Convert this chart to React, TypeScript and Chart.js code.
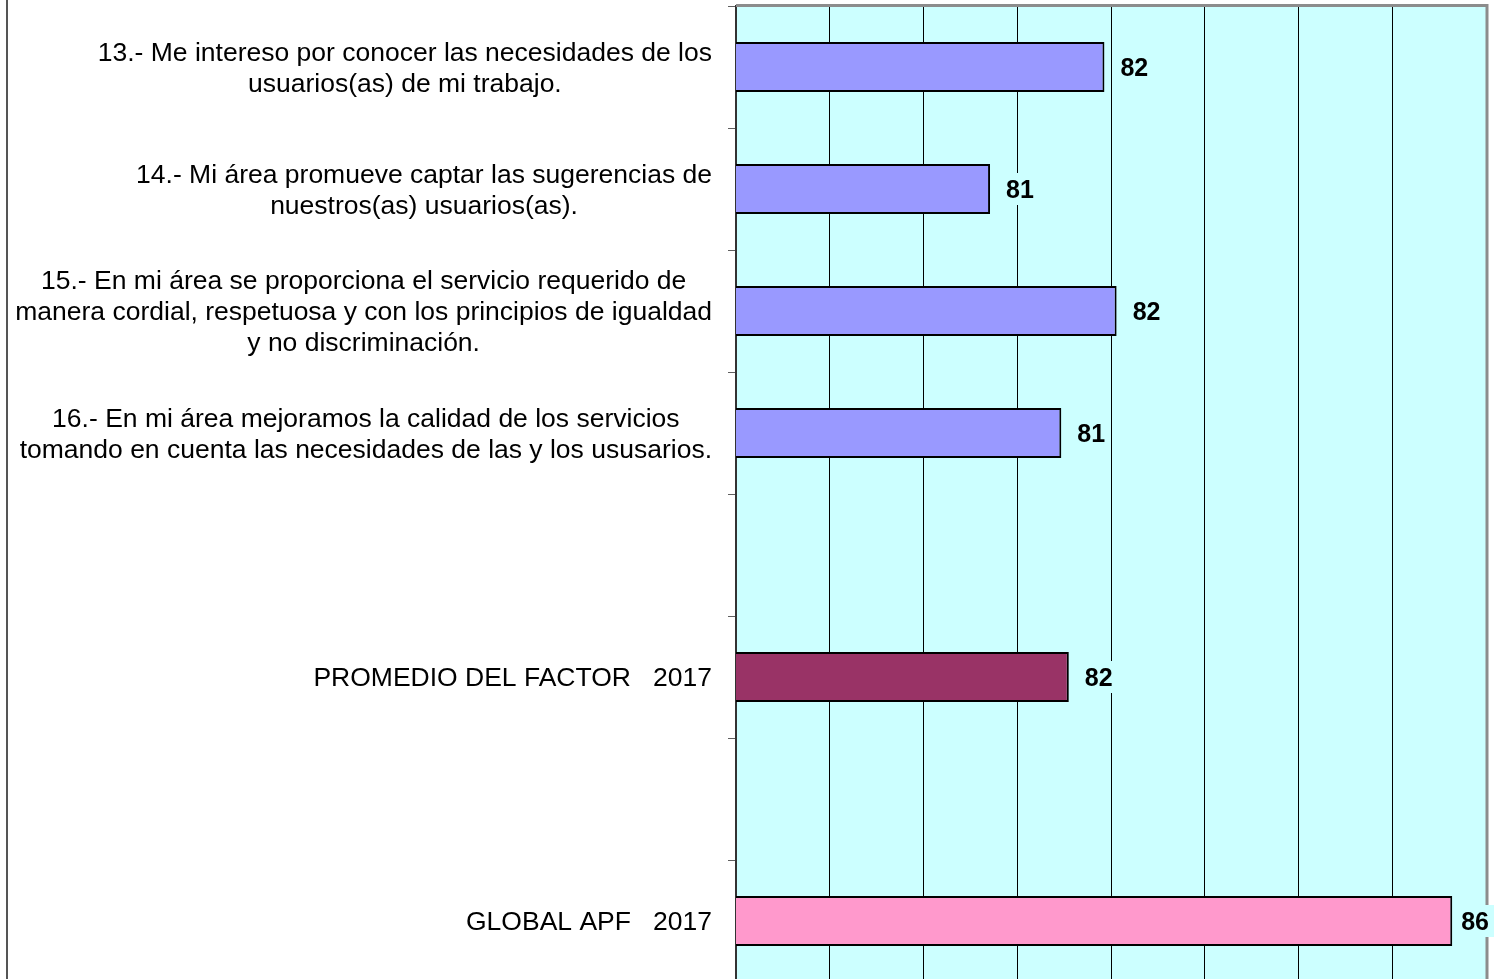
import React, { useEffect, useRef } from "react";
import { Chart, registerables } from "chart.js";

Chart.register(...registerables);

const categoryLines: string[][] = [
  ["13.- Me intereso por conocer las necesidades de los", "usuarios(as) de mi trabajo."],
  ["14.- Mi área promueve captar las sugerencias de", "nuestros(as) usuarios(as)."],
  ["15.- En mi área se proporciona el servicio requerido de", "manera cordial, respetuosa y con los principios de igualdad", "y no discriminación."],
  ["16.- En mi área mejoramos la calidad de los servicios", "tomando en cuenta las necesidades de las y los ususarios."],
  [""],
  ["PROMEDIO DEL FACTOR   2017"],
  [""],
  ["GLOBAL APF   2017"],
];
const values: (number | null)[] = [81.93, 80.71, 82.06, 81.47, null, 81.55, null, 85.64];
const barColors: string[] = ["#9999FF", "#9999FF", "#9999FF", "#9999FF", "#9999FF", "#993366", "#9999FF", "#FF99CC"];
const axisMin = 78;
const axisMax = 86;

const FONT = '"Liberation Sans", Arial, sans-serif';

const customPlugin = {
  id: "custom",
  beforeDraw(chart: any) {
    const { ctx, chartArea: a } = chart;
    ctx.save();
    ctx.fillStyle = "#CCFFFF";
    ctx.fillRect(a.left, a.top, a.right - a.left, a.bottom - a.top);
    ctx.restore();
  },
  afterDraw(chart: any) {
    const { ctx, chartArea: a } = chart;
    ctx.save();
    // outer frame line at left
    ctx.strokeStyle = "#555555";
    ctx.lineWidth = 2;
    ctx.beginPath();
    ctx.moveTo(7, 0);
    ctx.lineTo(7, chart.height);
    ctx.stroke();
    // plot border top/right
    ctx.strokeStyle = "#8C8C8C";
    ctx.lineWidth = 3;
    ctx.beginPath();
    ctx.moveTo(a.left, a.top - 0.5);
    ctx.lineTo(a.right + 1, a.top - 0.5);
    ctx.lineTo(a.right + 1, chart.height);
    ctx.stroke();

    // category labels
    const yScale = chart.scales.y;
    ctx.fillStyle = "#000000";
    ctx.font = `26.5px ${FONT}`;
    ctx.textAlign = "center";
    ctx.textBaseline = "middle";
    const rightEdge = 712;
    const lineH = 31;
    categoryLines.forEach((lines, i) => {
      const cy = yScale.getPixelForValue(i) + 2;
      const maxW = Math.max(...lines.map((l) => ctx.measureText(l).width));
      const cx = rightEdge - maxW / 2;
      const startY = cy - ((lines.length - 1) * lineH) / 2;
      lines.forEach((l, j) => ctx.fillText(l, cx, startY + j * lineH));
    });

    // value labels
    const meta = chart.getDatasetMeta(0);
    ctx.font = `bold 25px ${FONT}`;
    ctx.textAlign = "left";
    meta.data.forEach((bar: any, i: number) => {
      const v = values[i];
      if (v == null) return;
      const txt = String(Math.round(v));
      const w = ctx.measureText(txt).width;
      const x = Math.min(bar.x + 16, chart.width - 5 - w);
      ctx.fillStyle = "#CCFFFF";
      ctx.fillRect(x - 5, bar.y - 16, w + 10, 32);
      ctx.fillStyle = "#000000";
      ctx.fillText(txt, x, bar.y + 2);
    });
    ctx.restore();
  },
};

export default function App() {
  const ref = useRef<HTMLCanvasElement | null>(null);
  useEffect(() => {
    if (!ref.current) return;
    const chart = new Chart(ref.current, {
      type: "bar",
      data: {
        labels: categoryLines.map((l) => l.join(" ")),
        datasets: [
          {
            data: values as any,
            backgroundColor: barColors,
            borderColor: "#000000",
            borderWidth: 2,
            borderSkipped: "start",
            categoryPercentage: 1,
            barPercentage: 0.41,
          },
        ],
      },
      options: {
        indexAxis: "y",
        animation: false,
        responsive: false,
        maintainAspectRatio: false,
        layout: { padding: { top: 6, right: 8, bottom: 0, left: 0 } },
        plugins: { legend: { display: false }, tooltip: { enabled: false } },
        scales: {
          x: {
            min: axisMin,
            max: axisMax,
            ticks: { display: false, stepSize: 1 },
            grid: { color: "#000000", lineWidth: 1, drawTicks: false },
            border: { display: false },
            afterFit: (s: any) => {
              s.height = 0;
            },
          },
          y: {
            type: "category",
            ticks: { display: false },
            grid: { drawOnChartArea: false, offset: true, tickLength: 8, color: "#606060", lineWidth: 1 },
            border: { display: true, color: "#333333", width: 2 },
            afterFit: (s: any) => {
              s.width = 736;
            },
          },
        },
      },
      plugins: [customPlugin],
    });
    return () => chart.destroy();
  }, []);
  return (
    <div style={{ position: "fixed", left: 0, top: 0, width: 1494, height: 979, overflow: "hidden", background: "#fff" }}>
      <canvas ref={ref} width={1494} height={982} style={{ display: "block" }} />
    </div>
  );
}
